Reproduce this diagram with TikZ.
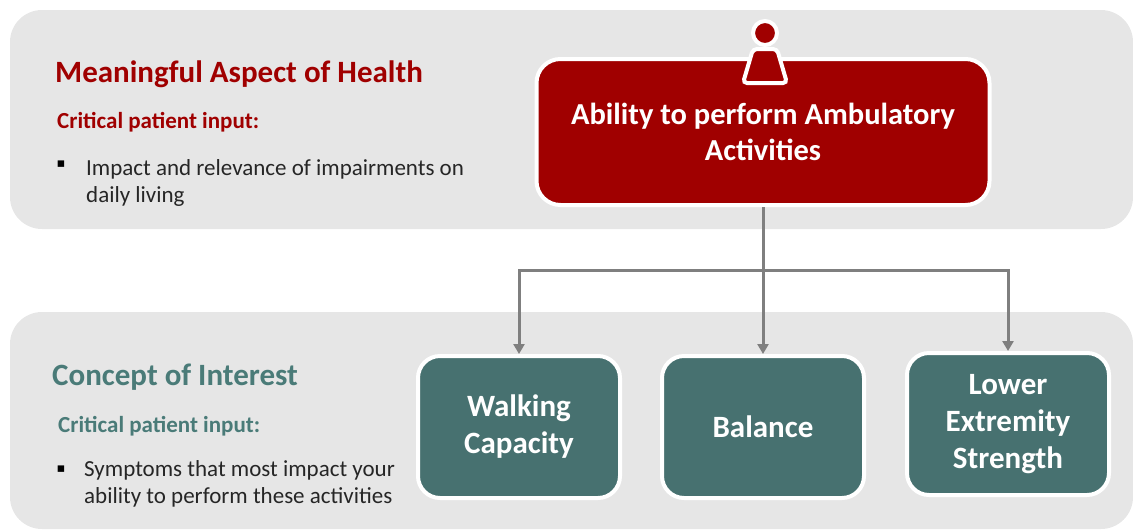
\documentclass[tikz,border=0pt]{standalone}
\usepackage{fontspec}
\setmainfont{Carlito}
\newfontfamily\symfont{DejaVu Sans}
\usetikzlibrary{arrows.meta}
\definecolor{aspectred}{HTML}{A00000}
\definecolor{conceptteal}{HTML}{477170}
\definecolor{conceptlabel}{HTML}{4A7B78}
\definecolor{bandgray}{HTML}{E6E6E6}
\definecolor{linkgray}{HTML}{7F7F7F}
\definecolor{bodytext}{HTML}{262626}
\begin{document}
\begin{tikzpicture}[x=1pt,y=-1pt,
    band/.style={fill=bandgray,rounded corners=32pt},
    aspectbox/.style={fill=aspectred,draw=white,line width=4pt,rounded corners=24pt,
      text=white,align=center,minimum width=453pt,minimum height=146pt,
      font=\fontsize{30.5}{36}\selectfont\bfseries},
    conceptbox/.style={fill=conceptteal,draw=white,line width=4pt,rounded corners=22pt,
      text=white,align=center,minimum width=202pt,minimum height=142pt,
      font=\fontsize{31}{37}\selectfont\bfseries},
    heading/.style={anchor=base west,inner sep=0pt,font=\fontsize{31}{36}\selectfont\bfseries},
    subheading/.style={anchor=base west,inner sep=0pt,font=\fontsize{23}{28}\selectfont\bfseries},
    bullettext/.style={anchor=base west,inner sep=0pt,align=left,text=bodytext,
      font=\fontsize{23}{27}\selectfont},
    bulletmark/.style={inner sep=0pt,text=black,font=\symfont\fontsize{13}{13}\selectfont},
    link/.style={draw=linkgray,line width=3pt,-{Triangle[width=11pt,length=10pt]}}]
  \useasboundingbox (0,0) rectangle (1133,531);
  % bands
  \fill[band] (10,10) rectangle (1133,229);
  \fill[band] (10,312) rectangle (1133,529);
  % upper band texts
  \node[heading,text=aspectred] (aspecttitle) at (55,82) {Meaningful Aspect of Health};
  \node[subheading,text=aspectred] (aspectinput) at (57,128) {Critical patient input:};
  \node[bulletmark] (aspectmark) at (61,164) {▪};
  \node[bullettext] (aspectnote) at (86,202) {Impact and relevance of impairments on\\daily living};
  % lower band texts
  \node[heading,text=conceptlabel] (concepttitle) at (52,385) {Concept of Interest};
  \node[subheading,text=conceptlabel] (conceptinput) at (58,432) {Critical patient input:};
  \node[bulletmark] (conceptmark) at (61,469) {▪};
  \node[bullettext] (conceptnote) at (84,503) {Symptoms that most impact your\\ability to perform these activities};
  % boxes
  \node[aspectbox] (ability) at (763,132) {Ability to perform Ambulatory\\Activities};
  \node[conceptbox] (walking) at (519,427) {Walking\\Capacity};
  \node[conceptbox] (balance) at (763,427) {Balance};
  \node[conceptbox] (lower) at (1008,424) {Lower\\Extremity\\Strength};
  % person icon
  \filldraw[fill=aspectred,draw=white,line width=4pt,rounded corners=4pt]
    (743,83) -- (753,49) -- (777,49) -- (787,83) -- cycle;
  \filldraw[fill=aspectred,draw=white,line width=4pt] (765,33) circle (12);
  % links
  \coordinate (hub) at (763,270);
  \draw[link] (ability) -- (balance);
  \draw[link] (hub) -| (walking.north);
  \draw[link] (hub) -| (lower.north);
\end{tikzpicture}
\end{document}
